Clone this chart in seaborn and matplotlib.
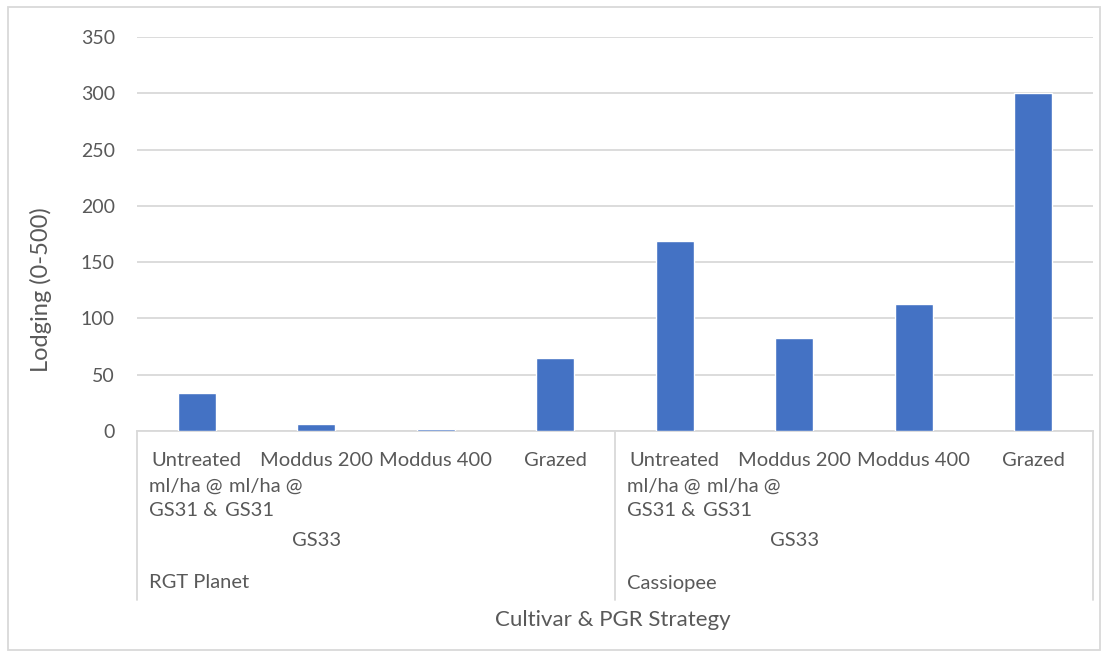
import pandas as pd
import matplotlib.pyplot as plt
import matplotlib.transforms as mtransforms
from matplotlib.patches import Rectangle
import seaborn as sns

# data
cultivars = ['RGT Planet', 'Cassiopee']
treatments = ['Untreated', 'Moddus 200', 'Moddus 400', 'Grazed']
lodging_planet = [34, 6, 1.5, 65]
lodging_cassiopee = [169, 83, 113, 300]

# wrapped label lines as they appear under each group (text, slot offset, align)
label_row2 = [('ml/ha @', -0.40, 'left'), ('ml/ha @', 0.27, 'left')]
label_row3 = [('GS31 &', -0.40, 'left'), ('GS31', 0.24, 'left')]
label_row4 = [('GS33', 1.0, 'center')]

rows = []
for c, vals in zip(cultivars, [lodging_planet, lodging_cassiopee]):
    for t, v in zip(treatments, vals):
        rows.append({'slot': f'{c} | {t}', 'lodging': v})
data = pd.DataFrame(rows)

sns.set_style('white')
plt.rcParams['font.family'] = ['Lato', 'DejaVu Sans']
text_col = '#595959'
grid_col = '#D9D9D9'

fig = plt.figure(figsize=(11.11, 6.6), dpi=100)
ax = fig.add_axes([137 / 1111, 1 - 431 / 660, 956 / 1111, 394 / 660])

sns.barplot(x='slot', y='lodging', data=data, color='#4472C4', width=0.32,
            saturation=1, ax=ax, zorder=3)

ax.set_ylim(0, 350)
ax.set_xlim(-0.5, 7.5)
ax.set_yticks(range(0, 351, 50))
ax.yaxis.grid(True, color=grid_col, linewidth=1.3, zorder=0)
ax.set_xticks([])
ax.set_xlabel('')
ax.set_ylabel('Lodging (0-500)', fontsize=17, color=text_col)
ax.yaxis.set_label_coords(-0.089, 0.358)
ax.tick_params(axis='y', length=0, labelsize=14, labelcolor=text_col, pad=16)
for s in ['top', 'right', 'left']:
    ax.spines[s].set_visible(False)
ax.spines['bottom'].set_color(grid_col)
ax.spines['bottom'].set_linewidth(1.3)

trans = mtransforms.blended_transform_factory(ax.transData, ax.transAxes)
px = 1 / 394  # one pixel in axes fraction (vertical)

def ypos(pix):
    return -(pix - 431) * px

# category axis box lines
for xv in [-0.5, 3.5, 7.5]:
    ax.plot([xv, xv], [0, ypos(600)], transform=trans, color=grid_col,
            linewidth=1.3, clip_on=False)

fs = 14.5
for g, c in enumerate(cultivars):
    base = g * 4
    for i, t in enumerate(treatments):
        ax.text(base + i, ypos(461), t, transform=trans, ha='center', va='center',
                fontsize=fs, color=text_col)
    for row, yp in [(label_row2, 486), (label_row3, 511), (label_row4, 540)]:
        for txt, off, ha in row:
            ax.text(base + off, ypos(yp), txt, transform=trans, ha=ha, va='center',
                    fontsize=fs, color=text_col)
    ax.text(base - 0.4, ypos(583), c, transform=trans, ha='left', va='center',
            fontsize=fs, color=text_col)

fig.text(613 / 1111, 1 - 620 / 660, 'Cultivar & PGR Strategy', ha='center',
         va='center', fontsize=16, color=text_col)

fig.patches.append(Rectangle((8 / 1111, 10 / 660), 1092 / 1111, 643 / 660,
                             transform=fig.transFigure, fill=False,
                             edgecolor=grid_col, linewidth=1.3))

plt.savefig('out.png', dpi=100)
